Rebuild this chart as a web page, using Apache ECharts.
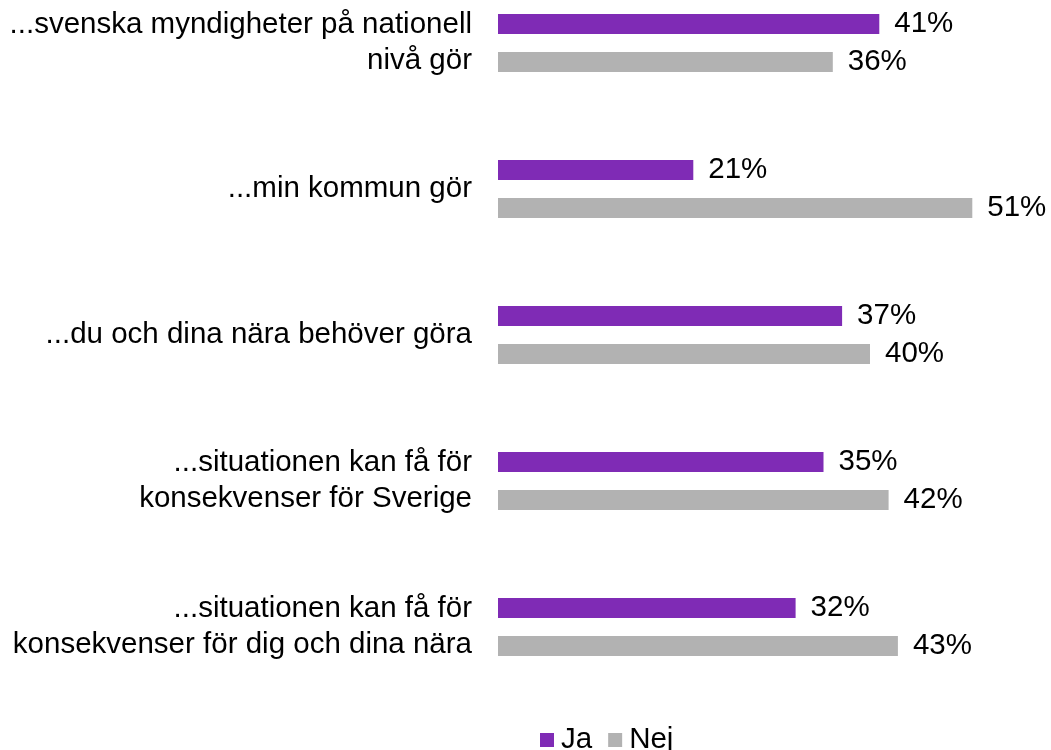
<!DOCTYPE html>
<html><head><meta charset="utf-8">
<script src="https://cdn.jsdelivr.net/npm/echarts@6/dist/echarts.min.js"></script>
<style>html,body{margin:0;padding:0;background:#fff}#c{width:1051px;height:750px}</style>
</head><body><div id="c"></div>
<script>
const categories = [
  "...svenska myndigheter på nationell\nnivå gör",
  "...min kommun gör",
  "...du och dina nära behöver göra",
  "...situationen kan få för\nkonsekvenser för Sverige",
  "...situationen kan få för\nkonsekvenser för dig och dina nära"
];
const ja = [41, 21, 37, 35, 32];
const nej = [36, 51, 40, 42, 43];
const seriesNames = ["Ja", "Nej"];

const chart = echarts.init(document.getElementById('c'));
const font = 'Liberation Sans, Arial, sans-serif';
const lbl = {show:true, position:'right', distance:15, formatter:'{c}%', color:'#000', fontSize:29.5, fontFamily:font};
chart.setOption({
  animation:false,
  grid:{left:498, top:-30, width:558, height:730, containLabel:false, outerBoundsMode:'none'},
  xAxis:{type:'value', min:0, max:60, show:false},
  yAxis:{type:'category', inverse:true, data:categories,
    axisLine:{show:false}, axisTick:{show:false},
    axisLabel:{color:'#000', fontSize:29.5, fontFamily:font, margin:26, align:'right', lineHeight:36}},
  legend:{bottom:-10, left:535, itemWidth:14, itemHeight:14, itemGap:16,
    icon:'rect', textStyle:{fontSize:29.5, fontFamily:font, color:'#000', padding:[0,0,0,2]},
    data:seriesNames},
  series:[
    {name:seriesNames[0], type:'bar', data:ja, barWidth:20, barGap:'90%', barCategoryGap:'60%',
      itemStyle:{color:'#7F2BB5'}, label:lbl},
    {name:seriesNames[1], type:'bar', data:nej, barWidth:20,
      itemStyle:{color:'#B2B2B2'}, label:lbl}
  ]
});
</script></body></html>
